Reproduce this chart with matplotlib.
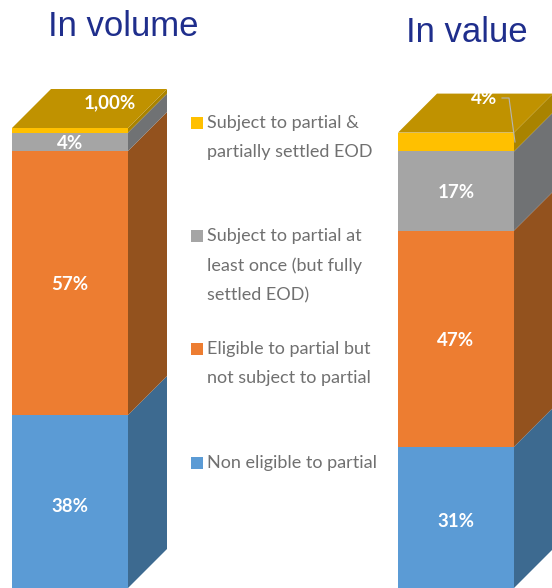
import numpy as np
import matplotlib
matplotlib.use("Agg")
import matplotlib.pyplot as plt
from matplotlib.patches import Polygon

segmentNames = ["Non eligible to partial",
                "Eligible to partial but\nnot subject to partial",
                "Subject to partial at\nleast once (but fully\nsettled EOD)",
                "Subject to partial &\npartially settled EOD"]
volumeValues = [37.6, 57.4, 4.0, 1.0]
valueValues = [30.7, 47.0, 17.2, 4.1]
volumeLabels = ["38%", "57%", "4%", "1,00%"]
valueLabels = ["31%", "47%", "17%", "4%"]
titles = ["In volume", "In value"]

frontColors = ["#5B9BD5", "#ED7D31", "#A5A5A5", "#FFC000"]
sideColors = ["#3D6A90", "#93521E", "#707274", "#A98300"]
topColor = "#C09200"
titleColor = "#1F2E8C"
legendTextColor = "#707070"

pixelsPerPercent = 4.6
depthX = 39
depthY = depthX / pixelsPerPercent
barWidth = 116

fig = plt.figure(figsize=(5.52, 5.88), dpi=100)
ax = fig.add_axes([0, 0, 1, 1])
ax.set_xlim(0, 552)
ax.set_ylim(0, 588 / pixelsPerPercent)
ax.axis("off")


def toY(pixelY):
    return (588 - pixelY) / pixelsPerPercent


def drawBar(left, values):
    bottom = 0
    for value, front, side in zip(values, frontColors, sideColors):
        ax.bar(left, value, barWidth, bottom=bottom, align="edge", color=front, linewidth=0)
        right = left + barWidth
        ax.add_patch(Polygon([(right, bottom), (right + depthX, bottom + depthY),
                              (right + depthX, bottom + value + depthY), (right, bottom + value)],
                             closed=True, facecolor=side, edgecolor="none"))
        bottom += value
    ax.add_patch(Polygon([(left, bottom), (left + barWidth, bottom),
                          (left + barWidth + depthX, bottom + depthY), (left + depthX, bottom + depthY)],
                         closed=True, facecolor=topColor, edgecolor="none"))


def drawLabels(centerX, values, labels):
    tops = np.cumsum(values)
    for i, (top, value, label) in enumerate(zip(tops[:-1], values[:-1], labels[:-1])):
        y = top - value / 2 - 0.4
        if i == 0:
            y -= 0.6
        ax.text(centerX, y, label, color="white", fontsize=13.5, fontweight="bold",
                family="Lato", ha="center", va="center")


drawBar(12, volumeValues)
drawBar(398, valueValues)
drawLabels(70, volumeValues, volumeLabels)
drawLabels(456, valueValues, valueLabels)

ax.text(110, toY(103), volumeLabels[3], color="white", fontsize=13.5, fontweight="bold",
        family="Lato", ha="center", va="center")
ax.plot([502, 509, 515], [toY(98), toY(98), toY(142)], color="#B5B5B5", linewidth=0.8)
ax.text(484, toY(99), valueLabels[3], color="white", fontsize=13.5, fontweight="bold",
        family="Lato", ha="center", va="center")

ax.text(123, toY(27), titles[0], color=titleColor, fontsize=25, family="Liberation Sans",
        ha="center", va="center")
ax.text(467, toY(33), titles[1], color=titleColor, fontsize=25, family="Liberation Sans",
        ha="center", va="center")

legendRows = [463, 349, 236, 123]
for name, color, row in zip(segmentNames, frontColors, legendRows):
    ax.scatter([196.5], [toY(row)], marker="s", s=66, color=color, linewidths=0)
    ax.text(207, toY(row - 8), name, color=legendTextColor, fontsize=13, family="Lato",
            ha="left", va="top", linespacing=2.02)

fig.savefig("out.png", dpi=100)
